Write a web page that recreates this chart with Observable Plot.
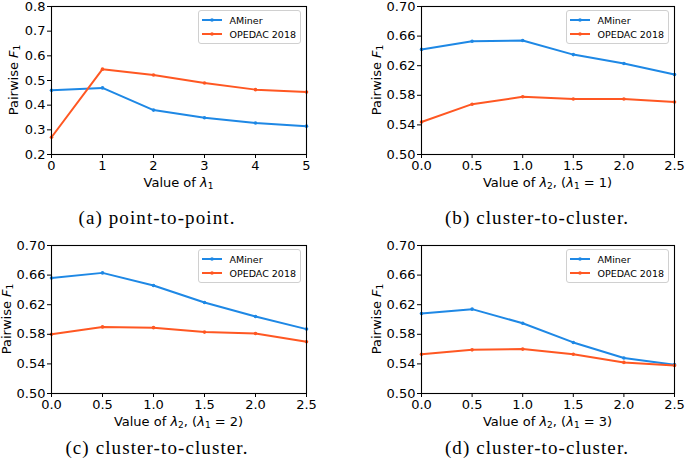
<!DOCTYPE html>
<html>
<head>
<meta charset="utf-8">
<script src="https://cdn.jsdelivr.net/npm/d3@7"></script>
<script src="https://cdn.jsdelivr.net/npm/@observablehq/plot@0.6"></script>
<style>
  body { margin: 0; background: #fff; }
  #root { position: relative; width: 685px; height: 461px; overflow: hidden; background: #fff; font-family: "DejaVu Sans", sans-serif; }
  .svgwrap { position: absolute; }
  .lab { position: absolute; transform: translate(-50%, -50%); white-space: nowrap; font-size: 13px; color: #000; }
  .lab sub { font-size: 9px; vertical-align: -2px; line-height: 0; }
  .ylab { transform: translate(-50%, -50%) rotate(-90deg); }
  .cap { position: absolute; transform: translate(-50%, -50%); white-space: nowrap; font-family: "Liberation Serif", serif; font-size: 19px; letter-spacing: 1.1px; color: #000; }
  .legend { position: absolute; border: 1px solid #d0d0d0; border-radius: 3px; background: rgba(255,255,255,0.85); font-size: 9.5px; padding: 2px 4px 2px 2px; }
  .legend div { display: flex; align-items: center; height: 14px; }
  .legend svg { margin-right: 6px; }
</style>
</head>
<body>
<div id="root"></div>
<script>
// ---- data ----
const seriesNames = ["AMiner", "OPEDAC 2018"];
const seriesColors = ["#1E88E5", "#FF5722"];

const xA = [0, 1, 2, 3, 4, 5];
const aminerA = [0.460, 0.470, 0.380, 0.349, 0.328, 0.315];
const opedacA = [0.270, 0.546, 0.522, 0.490, 0.463, 0.453];

const xBCD = [0, 0.5, 1.0, 1.5, 2.0, 2.5];
const aminerB = [0.642, 0.653, 0.654, 0.635, 0.623, 0.608];
const opedacB = [0.544, 0.568, 0.578, 0.575, 0.575, 0.571];
const aminerC = [0.656, 0.663, 0.646, 0.623, 0.604, 0.587];
const opedacC = [0.580, 0.590, 0.589, 0.583, 0.581, 0.570];
const aminerD = [0.608, 0.614, 0.595, 0.569, 0.548, 0.539];
const opedacD = [0.553, 0.559, 0.560, 0.553, 0.542, 0.538];

const yTicksA = [0.2, 0.3, 0.4, 0.5, 0.6, 0.7, 0.8];
const yTicksBCD = [0.50, 0.54, 0.58, 0.62, 0.66, 0.70];
const xTicksA = [0, 1, 2, 3, 4, 5];
const xTicksBCD = [0.0, 0.5, 1.0, 1.5, 2.0, 2.5];

const captions = ["(a) point-to-point.", "(b) cluster-to-cluster.", "(c) cluster-to-cluster.", "(d) cluster-to-cluster."];
const xLabels = [
  'Value of <i>λ</i><sub>1</sub>',
  'Value of <i>λ</i><sub>2</sub>, (<i>λ</i><sub>1</sub> = 1)',
  'Value of <i>λ</i><sub>2</sub>, (<i>λ</i><sub>1</sub> = 2)',
  'Value of <i>λ</i><sub>2</sub>, (<i>λ</i><sub>1</sub> = 3)'
];
const yLabel = 'Pairwise <i>F</i><sub>1</sub>';

// ---- layout ----
const panels = [
  {x: xA, a: aminerA, o: opedacA, xd: [0, 5], xt: xTicksA, xf: d3.format("d"), yd: [0.2, 0.8], yt: yTicksA, yf: d3.format(".1f"),
   left: 0, top: 0, w: 340, h: 200, ml: 51, mr: 34, mt: 6, mb: 46, ylx: 13, xly: 182, capx: 157, capy: 218},
  {x: xBCD, a: aminerB, o: opedacB, xd: [0, 2.5], xt: xTicksBCD, xf: d3.format(".1f"), yd: [0.5, 0.7], yt: yTicksBCD, yf: d3.format(".2f"),
   left: 340, top: 0, w: 345, h: 200, ml: 81, mr: 11, mt: 6, mb: 46, ylx: 376, xly: 182, capx: 537, capy: 218},
  {x: xBCD, a: aminerC, o: opedacC, xd: [0, 2.5], xt: xTicksBCD, xf: d3.format(".1f"), yd: [0.5, 0.7], yt: yTicksBCD, yf: d3.format(".2f"),
   left: 0, top: 230, w: 340, h: 200, ml: 51, mr: 34, mt: 15, mb: 37, ylx: 6, xly: 421, capx: 157, capy: 448},
  {x: xBCD, a: aminerD, o: opedacD, xd: [0, 2.5], xt: xTicksBCD, xf: d3.format(".1f"), yd: [0.5, 0.7], yt: yTicksBCD, yf: d3.format(".2f"),
   left: 340, top: 230, w: 345, h: 200, ml: 81, mr: 11, mt: 15, mb: 37, ylx: 376, xly: 421, capx: 537, capy: 448}
];

const root = document.getElementById("root");

panels.forEach((p, i) => {
  const rows = [];
  p.x.forEach((v, j) => rows.push({x: v, y: p.a[j], s: seriesNames[0]}));
  p.x.forEach((v, j) => rows.push({x: v, y: p.o[j], s: seriesNames[1]}));

  const chart = Plot.plot({
    width: p.w, height: p.h,
    marginLeft: p.ml, marginRight: p.mr, marginTop: p.mt, marginBottom: p.mb,
    style: {fontFamily: "DejaVu Sans", fontSize: "13px", color: "#000", background: "transparent", overflow: "visible"},
    x: {domain: p.xd},
    y: {domain: p.yd},
    color: {domain: seriesNames, range: seriesColors},
    marks: [
      Plot.line(rows, {x: "x", y: "y", stroke: "s", z: "s", strokeWidth: 2}),
      Plot.dot(rows, {x: "x", y: "y", fill: "s", r: 1.8}),
      Plot.frame({stroke: "#000", strokeWidth: 1.1}),
      Plot.axisX({ticks: p.xt, tickFormat: p.xf, tickSize: 4, tickPadding: 2, label: null, strokeWidth: 1}),
      Plot.axisY({ticks: p.yt, tickFormat: p.yf, tickSize: 4, tickPadding: 2, label: null, strokeWidth: 1})
    ]
  });
  const wrap = document.createElement("div");
  wrap.className = "svgwrap";
  wrap.style.left = p.left + "px";
  wrap.style.top = p.top + "px";
  wrap.appendChild(chart);
  root.appendChild(wrap);

  const plotL = p.left + p.ml, plotR = p.left + p.w - p.mr;
  const plotT = p.top + p.mt, plotB = p.top + p.h - p.mb;
  const cx = (plotL + plotR) / 2;

  const xl = document.createElement("div");
  xl.className = "lab";
  xl.innerHTML = xLabels[i];
  xl.style.left = cx + "px";
  xl.style.top = p.xly + "px";
  root.appendChild(xl);

  const yl = document.createElement("div");
  yl.className = "lab ylab";
  yl.innerHTML = yLabel;
  yl.style.left = p.ylx + "px";
  yl.style.top = ((plotT + plotB) / 2) + "px";
  root.appendChild(yl);

  const cap = document.createElement("div");
  cap.className = "cap";
  cap.textContent = captions[i];
  cap.style.left = p.capx + "px";
  cap.style.top = p.capy + "px";
  root.appendChild(cap);

  const lg = document.createElement("div");
  lg.className = "legend";
  lg.style.right = (685 - plotR + 5) + "px";
  lg.style.top = (plotT + 4) + "px";
  seriesNames.forEach((n, k) => {
    const row = document.createElement("div");
    row.innerHTML = `<svg width="22" height="6"><line x1="1" y1="3" x2="21" y2="3" stroke="${seriesColors[k]}" stroke-width="2"/><circle cx="11" cy="3" r="1.8" fill="${seriesColors[k]}"/></svg><span>${n}</span>`;
    lg.appendChild(row);
  });
  root.appendChild(lg);
});
</script>
</body>
</html>
